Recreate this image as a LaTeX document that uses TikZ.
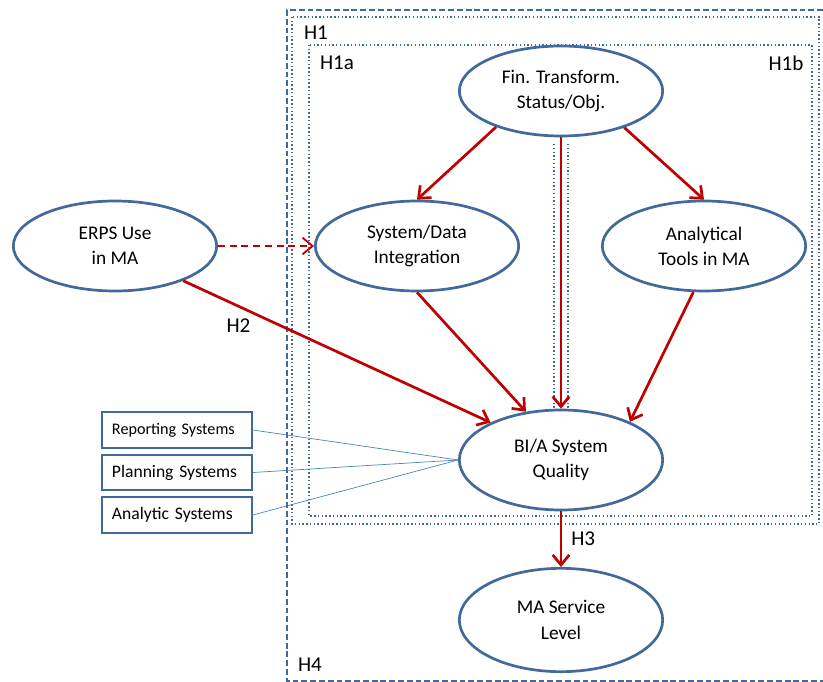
\documentclass[tikz,border=0pt]{standalone}
\usepackage{fontspec}
\setmainfont{Carlito}
\usetikzlibrary{arrows.meta, positioning, shapes.geometric}
\definecolor{elblue}{RGB}{65,105,155}
\definecolor{arred}{RGB}{192,0,0}
\definecolor{lnblue}{RGB}{79,129,189}
\tikzset{
  elli/.style={draw=elblue, ellipse, line width=2.3pt, fill=white, minimum width=6.1cm,
    minimum height=2.7cm, inner sep=0pt, align=center, font=\fontsize{16.5}{21.5}\selectfont},
  sysbox/.style={draw=elblue, line width=1.5pt, text width=3.9cm, inner xsep=0.3cm,
    minimum height=1.07cm, align=left, font=\fontsize{15}{17}\selectfont},
  arr/.style={-{Straight Barb[length=3mm, width=5mm]}, line width=2.3pt, draw=arred},
  link/.style={draw=lnblue, line width=0.6pt},
  hbox/.style={draw=elblue, dotted, line width=1.2pt},
  hlab/.style={font=\fontsize{18}{20}\selectfont},
}
\begin{document}
\begin{tikzpicture}[x=0.03cm, y=-0.03cm]
    \useasboundingbox (0,0) rectangle (823,682);
    % hypothesis frames
    \draw[elblue, line width=1.2pt, dash pattern=on 5pt off 2.5pt] (823,10) -| (287,681) -- (823,681);
    \draw[hbox] (292,17) rectangle (819,524);
    \draw[hbox] (309,45) rectangle (812,516);
    \node[hlab] (h1) at (316,33) {H1};
    \node[hlab] (h1a) at (337,63) {H1a};
    \node[hlab] (h1b) at (786,63) {H1b};
    \node[hlab] (h4) at (310,665) {H4};

    \node[elli] (fin) at (561,91) {Fin. Transform.\\Status/Obj.};
    \node[elli] (erps) at (115,246) {ERPS Use\\in MA};
    \node[elli] (sys) at (417,246) {System/Data\\Integration};
    \node[elli] (ana) at (704,246) {Analytical\\Tools in MA};
    \node[elli, minimum height=3cm] (bia) at (561,460) {BI/A System\\Quality};
    \node[elli, minimum height=3.1cm] (mas) at (561,620) {MA Service\\Level};

    \node[sysbox, font=\fontsize{13.8}{15}\selectfont] (rep) at (177,430) {Reporting Systems};
    \node[sysbox] (plan) at (177,472.5) {Planning Systems};
    \node[sysbox] (anl) at (177,515) {Analytic Systems};

    \draw[link] (rep.east) -- (bia.west);
    \draw[link] (plan.east) -- (bia.west);
    \draw[link] (anl.east) -- (bia.west);

    \draw[hbox] ([xshift=-0.21cm, yshift=-0.2cm]fin.south) -- ([xshift=-0.21cm]bia.north);
    \draw[hbox] ([xshift=0.21cm, yshift=-0.2cm]fin.south) -- ([xshift=0.21cm]bia.north);

    \draw[arr] (fin.209) -- (sys.north);
    \draw[arr] (fin.330) -- (ana.north);
    \draw[arr] (fin.south) -- (bia.north);
    \draw[arr] (sys.south) -- (bia.126);
    \draw[arr] (ana.257) -- (bia.29);
    \draw[arr] (erps.333) -- node[pos=0.18, below=0.22cm, hlab] {H2} (bia.152);
    \draw[arr, line width=1.6pt, dash pattern=on 6pt off 4pt] (erps.east) -- (sys.west);
    \draw[arr] (bia.south) -- node[right=0.15cm, hlab] {H3} (mas.north);
  \end{tikzpicture}
\end{document}
